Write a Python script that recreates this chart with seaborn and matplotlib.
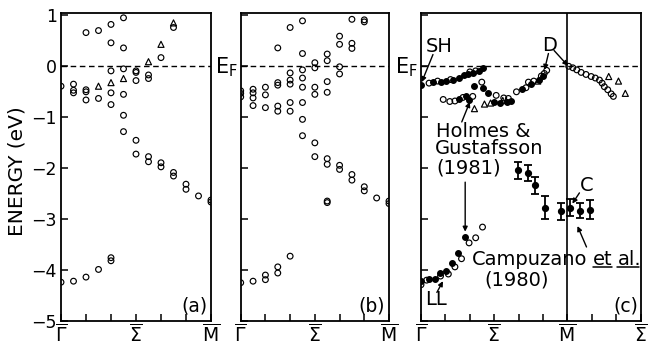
import numpy as np
import pandas as pd
import matplotlib
matplotlib.use("Agg")
import matplotlib.pyplot as plt
from matplotlib.lines import Line2D
import seaborn as sns

sns.set_style("ticks")
plt.rcParams["font.family"] = ["DejaVu Sans"]
plt.rcParams["mathtext.fontset"] = "dejavusans"
for k in ["text.color", "axes.labelcolor", "xtick.color", "ytick.color", "axes.edgecolor"]:
    plt.rcParams[k] = "black"

# ---------------- data ----------------
# panel (a): calculated bands (open circles) and triangles
a_circ_x = [0, 0, 0.5, 0.5, 0.5, 0.5, 1, 1, 1, 1, 1, 1.5, 1.5, 1.5,
            2, 2, 2, 2, 2, 2, 2, 2.5, 2.5, 2.5, 2.5, 2.5, 2.5,
            3, 3, 3, 3, 3, 3.5, 3.5, 3.5, 3.5, 4, 4, 4, 4.5, 4.5, 4.5,
            5, 5, 5.5, 6, 6]
a_circ_E = [-0.40, -4.24, -0.36, -0.48, -0.53, -4.22, 0.65, -0.47, -0.51, -0.67, -4.14,
            0.69, -0.64, -3.99, 0.81, 0.45, -0.10, -0.53, -0.76, -3.76, -3.82,
            0.94, 0.35, -0.06, -0.56, -0.97, -1.29, -0.10, -0.13, -0.29, -1.46, -1.73,
            -0.18, -0.25, -1.78, -1.88, 0.16, -1.90, -1.98, 0.75, -2.09, -2.16,
            -2.32, -2.42, -2.55, -2.63, -2.67]
a_tri_x = [1.5, 2, 2.5, 3.5, 4, 4.5]
a_tri_E = [-0.40, -0.33, -0.25, 0.08, 0.42, 0.84]

# panel (b): calculated bands (open circles)
b_circ_x = [0, 0, 0, 0, 0.5, 0.5, 0.5, 0.5, 0.5, 1, 1, 1, 1, 1,
            1.5, 1.5, 1.5, 1.5, 1.5, 1.5, 1.5, 2, 2, 2, 2, 2, 2, 2,
            2.5, 2.5, 2.5, 2.5, 2.5, 2.5, 2.5, 2.5, 3, 3, 3, 3, 3, 3,
            3.5, 3.5, 3.5, 3.5, 3.5, 3.5, 3.5, 3.5, 4, 4, 4, 4, 4, 4,
            4.5, 4.5, 4.5, 4.5, 4.5, 5, 5, 5, 5, 5.5, 6, 6]
b_circ_E = [-0.49, -0.54, -0.61, -4.25, -0.46, -0.53, -0.63, -0.78, -4.22,
            -0.42, -0.57, -0.82, -4.10, -4.19,
            0.35, -0.33, -0.38, -0.79, -0.89, -3.94, -4.06,
            0.75, -0.14, -0.28, -0.36, -0.72, -0.89, -3.73,
            0.88, 0.24, -0.08, -0.24, -0.42, -0.72, -1.05, -1.37,
            0.06, -0.04, -0.42, -0.56, -1.51, -1.78,
            0.23, 0.10, -0.31, -0.52, -1.82, -1.93, -2.65, -2.68,
            0.58, 0.42, -0.02, -0.16, -1.95, -2.03,
            0.91, 0.44, 0.34, -2.13, -2.24, 0.90, 0.86, -2.37, -2.45,
            -2.59, -2.65, -2.70]

# panel (c): experiment
c_fill_x = [0, 0.5, 0.82, 1.01, 1.32, 1.55, 1.77, 1.91, 2.13, 2.37, 2.54,
            1.55, 1.86, 1.96, 2.19, 2.53, 2.76, 3.0, 3.24, 3.51, 3.67, 4.12, 4.49, 4.85, 5.0,
            0, 0.34, 0.57, 0.78, 1.02, 1.25, 1.50, 1.80]
c_fill_E = [-0.38, -0.32, -0.31, -0.30, -0.27, -0.23, -0.19, -0.16, -0.14, -0.11, -0.04,
            -0.66, -0.60, -0.68, -0.40, -0.43, -0.53, -0.70, -0.73, -0.70, -0.69, -0.45, -0.35, -0.28, -0.20,
            -4.21, -4.17, -4.17, -4.06, -4.02, -3.86, -3.66, -3.35]
c_open_x = [0.33, 0.68, 1.21, 2.0, 2.24,
            0.91, 1.18, 1.39, 1.72, 2.12, 2.49, 3.08, 3.39, 3.58, 3.91, 4.30, 4.40, 4.62, 4.93, 5.05, 5.15,
            6.05, 6.22, 6.38, 6.56, 6.76, 6.97, 7.14, 7.31, 7.42, 7.51, 7.65, 7.79, 7.88,
            0, 0.23, 0.80, 1.12, 1.39, 1.66, 1.97, 2.24, 2.52]
c_open_E = [-0.34, -0.30, -0.27, -0.12, -0.10,
            -0.66, -0.70, -0.69, -0.62, -0.60, -0.32, -0.58, -0.63, -0.64, -0.51, -0.43, -0.32, -0.30, -0.20, -0.15, -0.09,
            -0.01, -0.04, -0.08, -0.13, -0.17, -0.21, -0.24, -0.28, -0.34, -0.41, -0.47, -0.55, -0.60,
            -4.29, -4.20, -4.12, -4.08, -3.94, -3.78, -3.47, -3.37, -3.16]
c_tri_x = [2.19, 2.6, 2.85, 3.35, 4.78, 7.69, 8.09, 8.37]
c_tri_E = [-0.84, -0.75, -0.73, -0.68, -0.30, -0.21, -0.30, -0.54]
c_err_x = [3.97, 4.38, 4.68, 5.06, 5.74, 6.12, 6.53, 6.93]
c_err_E = [-2.05, -2.10, -2.34, -2.78, -2.85, -2.78, -2.84, -2.82]
c_err_d = [0.17, 0.16, 0.17, 0.22, 0.17, 0.17, 0.15, 0.19]

ab_ticklabels = [r"$\overline{\Gamma}$", "", "", r"$\overline{\Sigma}$", "", "", r"$\overline{\mathrm{M}}$"]
c_ticklabels = ab_ticklabels + ["", "", r"$\overline{\Sigma}$"]
y_ticklabels = ["\u22125", "\u22124", "\u22123", "\u22122", "\u22121", "0", "1"]

# ---------------- figure ----------------
W, H = 650, 349
fig = plt.figure(figsize=(6.5, 3.49), dpi=100)
bot, top = 321, 13.2
def pos(l, r):
    return [l / W, 1 - bot / H, (r - l) / W, (bot - top) / H]

ax_a = fig.add_axes(pos(61, 211))
ax_b = fig.add_axes(pos(240.7, 389))
ax_c = fig.add_axes(pos(421, 640.7))

circ_kw = dict(marker="o", s=17, facecolor="none", edgecolor="black", linewidth=0.85, legend=False)
tri_kw = dict(marker="^", s=19, facecolor="none", edgecolor="black", linewidth=0.85, legend=False)
fill_kw = dict(marker="o", s=17, facecolor="black", edgecolor="black", linewidth=0.85, legend=False)

sns.scatterplot(x=a_circ_x, y=a_circ_E, ax=ax_a, **circ_kw)
sns.scatterplot(x=a_tri_x, y=a_tri_E, ax=ax_a, **tri_kw)
sns.scatterplot(x=b_circ_x, y=b_circ_E, ax=ax_b, **circ_kw)
sns.scatterplot(x=c_open_x, y=c_open_E, ax=ax_c, **circ_kw)
sns.scatterplot(x=c_tri_x, y=c_tri_E, ax=ax_c, **tri_kw)
sns.scatterplot(x=c_fill_x, y=c_fill_E, ax=ax_c, **fill_kw)
ax_c.errorbar(c_err_x, c_err_E, yerr=c_err_d, fmt="o", ms=4.2, color="black",
              capsize=2.6, elinewidth=1.3, capthick=1.3)

for ax, xmax, labs in [(ax_a, 6, ab_ticklabels), (ax_b, 6, ab_ticklabels), (ax_c, 9, c_ticklabels)]:
    ax.set_xlim(0, xmax)
    ax.set_ylim(-5, 1.03)
    ax.axhline(0, color="black", lw=1.0, ls=(0, (4, 2.6)), zorder=0)
    ax.set_xticks(range(xmax + 1))
    ax.set_xticklabels(labs, fontsize=13.5)
    ax.set_yticks(range(-5, 2))
    ax.tick_params(direction="in", length=5, width=1.1, pad=4)
    ax.tick_params(axis="x", pad=2)
    for sp in ax.spines.values():
        sp.set_linewidth(1.3)
        sp.set_visible(True)
    ax.set_xlabel("")
    ax.set_ylabel("")

ax_a.set_yticklabels(y_ticklabels, fontsize=12.5)
ax_a.tick_params(axis="y", pad=3)
ax_b.set_yticklabels([])
ax_c.set_yticklabels([])
ax_c.axvline(6, color="black", lw=1.2)

for ax, t, xx in [(ax_a, "(a)", 5.35), (ax_b, "(b)", 5.3), (ax_c, "(c)", 8.37)]:
    ax.text(xx, -4.7, t, fontsize=13.5, ha="center", va="center")

fig.text(17.5 / W, 1 - 171 / H, "ENERGY (eV)", rotation=90, fontsize=14.5, ha="center", va="center")
fig.text(226 / W, 1 - 67 / H, r"$\mathrm{E_F}$", fontsize=15, ha="center", va="center")
fig.text(406 / W, 1 - 67 / H, r"$\mathrm{E_F}$", fontsize=15, ha="center", va="center")

arr = dict(arrowstyle="-|>", color="black", lw=1.0, mutation_scale=7, shrinkA=0, shrinkB=0)
fs = 14
ax_c.text(0.73, 0.38, "SH", fontsize=fs, ha="center", va="center")
ax_c.annotate("", xy=(0.03, -0.32), xytext=(0.49, 0.22), arrowprops=arr)
ax_c.text(5.27, 0.39, "D", fontsize=fs, ha="center", va="center")
ax_c.annotate("", xy=(5.06, -0.08), xytext=(5.22, 0.24), arrowprops=arr)
ax_c.annotate("", xy=(6.02, 0.0), xytext=(5.45, 0.30), arrowprops=arr)
ax_c.text(0.62, -1.28, "Holmes &", fontsize=fs, ha="left", va="center")
ax_c.text(0.55, -1.63, "Gustafsson", fontsize=fs, ha="left", va="center")
ax_c.text(0.62, -2.01, "(1981)", fontsize=fs, ha="left", va="center")
ax_c.annotate("", xy=(2.0, -0.71), xytext=(1.67, -1.10), arrowprops=arr)
ax_c.annotate("", xy=(1.81, -3.25), xytext=(1.81, -2.28), arrowprops=arr)
t_camp = ax_c.text(2.1, -3.90, "Campuzano", fontsize=fs, ha="left", va="baseline")
ax_c.text(2.6, -4.20, "(1980)", fontsize=fs, ha="left", va="center")
ax_c.annotate("", xy=(6.41, -3.14), xytext=(6.78, -3.55), arrowprops=arr)
ax_c.text(6.8, -2.35, "C", fontsize=fs, ha="center", va="center")
ax_c.annotate("", xy=(6.2, -2.70), xytext=(6.49, -2.49), arrowprops=arr)
ax_c.text(0.61, -4.58, "LL", fontsize=fs, ha="center", va="center")
ax_c.annotate("", xy=(0.90, -4.22), xytext=(0.65, -4.44), arrowprops=arr)

# "et al." underlined, placed after "Campuzano"
fig.canvas.draw()
r = fig.canvas.get_renderer()
bb = t_camp.get_window_extent(r)
x_cur = bb.x1 + 5
base_y = ax_c.transData.transform((0, -3.90))[1]
for word in ["et", "al."]:
    t = fig.text(x_cur / W, base_y / H, word, fontsize=fs, ha="left", va="baseline")
    wb = t.get_window_extent(r)
    fig.add_artist(Line2D([wb.x0 / W, (wb.x1 - (2 if word == "al." else 0)) / W],
                          [(base_y - 2.5) / H] * 2, color="black", lw=1.1))
    x_cur = wb.x1 + 5

fig.savefig("out.png", dpi=100)
